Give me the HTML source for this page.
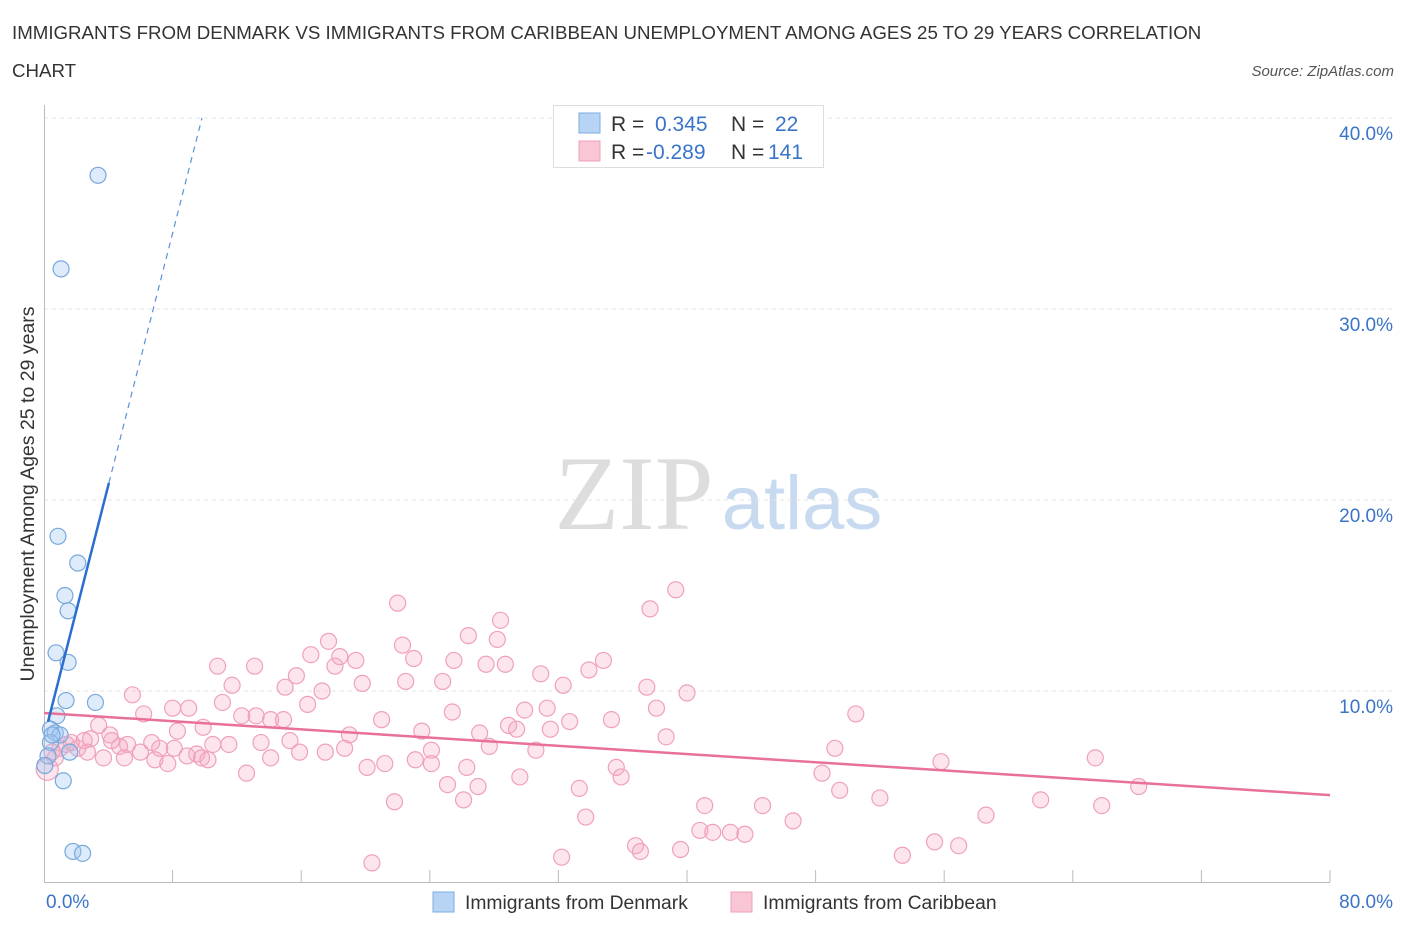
<!DOCTYPE html>
<html><head><meta charset="utf-8">
<style>
body{margin:0;background:#fff;font-family:"Liberation Sans",sans-serif;}
svg text{font-family:"Liberation Sans",sans-serif;}
</style></head>
<body>
<svg id="chart" width="1406" height="930" viewBox="0 0 1406 930">
<text x="12" y="39" font-size="18.7" fill="#333">IMMIGRANTS FROM DENMARK VS IMMIGRANTS FROM CARIBBEAN UNEMPLOYMENT AMONG AGES 25 TO 29 YEARS CORRELATION</text>
<text x="12" y="77" font-size="18.7" fill="#333">CHART</text>
<text x="1394" y="76" font-size="15" fill="#555" font-style="italic" text-anchor="end">Source: ZipAtlas.com</text>
<text x="634" y="529" font-size="106" fill="#ddd" text-anchor="middle" style="font-family:'Liberation Serif',serif">ZIP</text>
<text x="802" y="529" font-size="76" fill="#c8daf0" text-anchor="middle">atlas</text>
<text transform="translate(34,494) rotate(-90)" font-size="19.5" fill="#333" text-anchor="middle">Unemployment Among Ages 25 to 29 years</text>
<g id="grid"></g>
<g id="marks"></g>
<g>
<rect x="553.5" y="105.5" width="270" height="62" fill="#fff" stroke="#ddd"/>
<rect x="579" y="113" width="21" height="20" fill="#b8d4f4" stroke="#7aaee0"/>
<rect x="579" y="141" width="21" height="20" fill="#f9c6d6" stroke="#f0a0b8"/>
<text x="611" y="131" font-size="21" fill="#333">R = </text><text x="655" y="131" font-size="21" fill="#3a74c8">0.345</text>
<text x="731" y="131" font-size="21" fill="#333">N = </text><text x="775" y="131" font-size="21" fill="#3a74c8">22</text>
<text x="611" y="159" font-size="21" fill="#333">R = </text><text x="646" y="159" font-size="21" fill="#3a74c8">-0.289</text>
<text x="731" y="159" font-size="21" fill="#333">N = </text><text x="768" y="159" font-size="21" fill="#3a74c8">141</text>
</g>
<g>
<rect x="433" y="892" width="21" height="20" fill="#b8d4f4" stroke="#7aaee0"/>
<text x="465" y="909" font-size="19.3" fill="#333">Immigrants from Denmark</text>
<rect x="731" y="892" width="21" height="20" fill="#f9c6d6" stroke="#f0a0b8"/>
<text x="763" y="909" font-size="19.3" fill="#333">Immigrants from Caribbean</text>
</g>
</svg>
<script>
const yTicks=[10,20,30,40];
const xTickLabels=["0.0%","80.0%"];
const denX=[3.36,1.06,0.87,2.1,1.3,1.5,0.75,1.5,1.37,3.2,0.8,0.4,0.7,1.0,0.4,1.6,0.25,1.2,1.8,2.4,0.5,0.05];
const denY=[37.0,32.1,18.1,16.7,15.0,14.2,12.0,11.5,9.5,9.4,8.7,8.0,7.8,7.7,7.3,6.8,6.6,5.3,1.6,1.5,7.7,6.1];
const carX=[39.3,37.7,22.0,28.4,26.4,28.2,17.7,22.3,16.6,18.4,19.4,23.0,25.5,27.5,28.7,34.8,33.9,10.8,13.1,15.7,18.1,30.9,24.8,22.5,19.8,11.7,15.0,17.3,32.3,37.5,40.0,5.5,11.1,16.4,8.0,9.0,6.2,25.4,29.9,31.3,38.1,50.5,12.3,13.2,14.1,14.9,21.0,35.3,32.7,9.9,3.4,8.3,19.0,23.5,27.1,28.9,29.4,38.7,4.1,2.9,5.2,6.7,8.1,10.5,11.5,13.5,15.3,4.7,7.2,9.5,9.8,6.0,15.9,17.5,18.7,24.1,27.7,30.6,31.5,49.2,1.7,1.0,3.7,5.0,6.9,7.7,8.9,10.2,12.6,14.1,20.1,21.2,23.1,24.1,26.3,29.6,35.6,35.9,48.4,65.4,55.8,25.1,27.0,26.1,21.8,33.3,49.5,52.0,62.0,65.8,68.1,41.1,44.7,58.6,46.6,33.7,40.8,41.6,42.7,43.6,55.4,56.9,36.8,37.1,39.6,53.4,32.2,20.4,0.5,1.4,2.1,2.5,0.2,4.2,2.7,0.7];
const carY=[15.3,14.3,14.6,13.7,12.9,12.7,12.6,12.4,11.9,11.8,11.6,11.7,11.6,11.4,11.4,11.6,11.1,11.3,11.3,10.8,11.3,10.9,10.5,10.5,10.4,10.3,10.2,10.0,10.3,10.2,9.9,9.8,9.4,9.3,9.1,9.1,8.8,8.9,9.0,9.1,9.1,8.8,8.7,8.7,8.5,8.5,8.5,8.5,8.4,8.1,8.2,7.9,7.7,7.9,7.8,8.2,8.0,7.6,7.7,7.5,7.2,7.3,7.0,7.2,7.2,7.3,7.4,7.1,7.0,6.7,6.5,6.8,6.8,6.8,7.0,6.9,7.1,6.9,8.0,7.0,7.3,7.0,6.5,6.5,6.4,6.2,6.6,6.4,5.7,6.5,6.0,6.2,6.4,6.2,6.0,5.5,6.0,5.5,5.7,6.5,6.3,5.1,5.0,4.3,4.2,4.9,4.8,4.4,4.3,4.0,5.0,4.0,4.0,3.5,3.2,3.4,2.7,2.6,2.6,2.5,2.1,1.9,1.9,1.6,1.7,1.4,1.3,1.0,6.8,7.2,7.0,7.4,5.9,7.4,6.8,6.5];
const denTrend=[7.57,3.3];
const carTrend=[8.85,-0.05375];

const NS="http://www.w3.org/2000/svg";
const X=v=>44+v*(1330-44)/80;
const Y=v=>882-v*19.1;
function mk(tag,attrs,parent){const e=document.createElementNS(NS,tag);for(const k in attrs)e.setAttribute(k,attrs[k]);parent.appendChild(e);return e;}
const grid=document.getElementById('grid'),marks=document.getElementById('marks');
yTicks.forEach(t=>{
  const l=mk('line',{x1:44,x2:1394,y1:Y(t),y2:Y(t),stroke:'#e4e4e4','stroke-dasharray':'4,4'},grid);
  
  
  const tx=mk('text',{x:1393,y:Y(t)+22,'font-size':19,fill:'#3a74c8','text-anchor':'end'},grid);
  tx.textContent=t.toFixed(1)+'%';
  
  
});
const ax=mk('line',{x1:44,x2:1330,y1:882.5,y2:882.5,stroke:'#bbb'},grid);


const ay=mk('line',{x1:44.5,x2:44.5,y1:105,y2:882,stroke:'#bbb'},grid);


for(let i=1;i<=10;i++){
  const t=mk('line',{x1:X(i*8),x2:X(i*8),y1:870,y2:882,stroke:'#bbb'},grid);
  
  
}
[[0,'start',46],[80,'end',1393]].forEach((d,i)=>{
  const tx=mk('text',{x:d[2],y:908,'font-size':19,fill:'#3a74c8','text-anchor':d[1]},grid);
  tx.textContent=xTickLabels[i];
  
  
});
carX.forEach((x,i)=>{
  const c=mk('circle',{cx:X(x),cy:Y(carY[i]),r:(i===carX.length-4)?11:8,fill:'rgba(246,170,196,0.3)',stroke:'#f0a0bc','stroke-width':1.2},marks);
  
  
});
denX.forEach((x,i)=>{
  const c=mk('circle',{cx:X(x),cy:Y(denY[i]),r:8,fill:'rgba(160,198,240,0.35)',stroke:'#78a8dc','stroke-width':1.2},marks);
  
  
});
const cl=mk('line',{x1:X(0),y1:Y(carTrend[0]),x2:X(80),y2:Y(carTrend[0]+carTrend[1]*80),stroke:'#e8709a','stroke-width':2.5},marks);


const dl=mk('line',{x1:X(0.25),y1:Y(denTrend[0]+denTrend[1]*0.25),x2:X(4.04),y2:Y(denTrend[0]+denTrend[1]*4.04),stroke:'#2a6fd0','stroke-width':2.5},marks);


const xe=(40-denTrend[0])/denTrend[1];
const dd=mk('line',{x1:X(4.04),y1:Y(denTrend[0]+denTrend[1]*4.04),x2:X(xe),y2:Y(40),stroke:'#5a90dc','stroke-width':1.2,'stroke-dasharray':'6,5'},marks);


</script>
</body></html>
